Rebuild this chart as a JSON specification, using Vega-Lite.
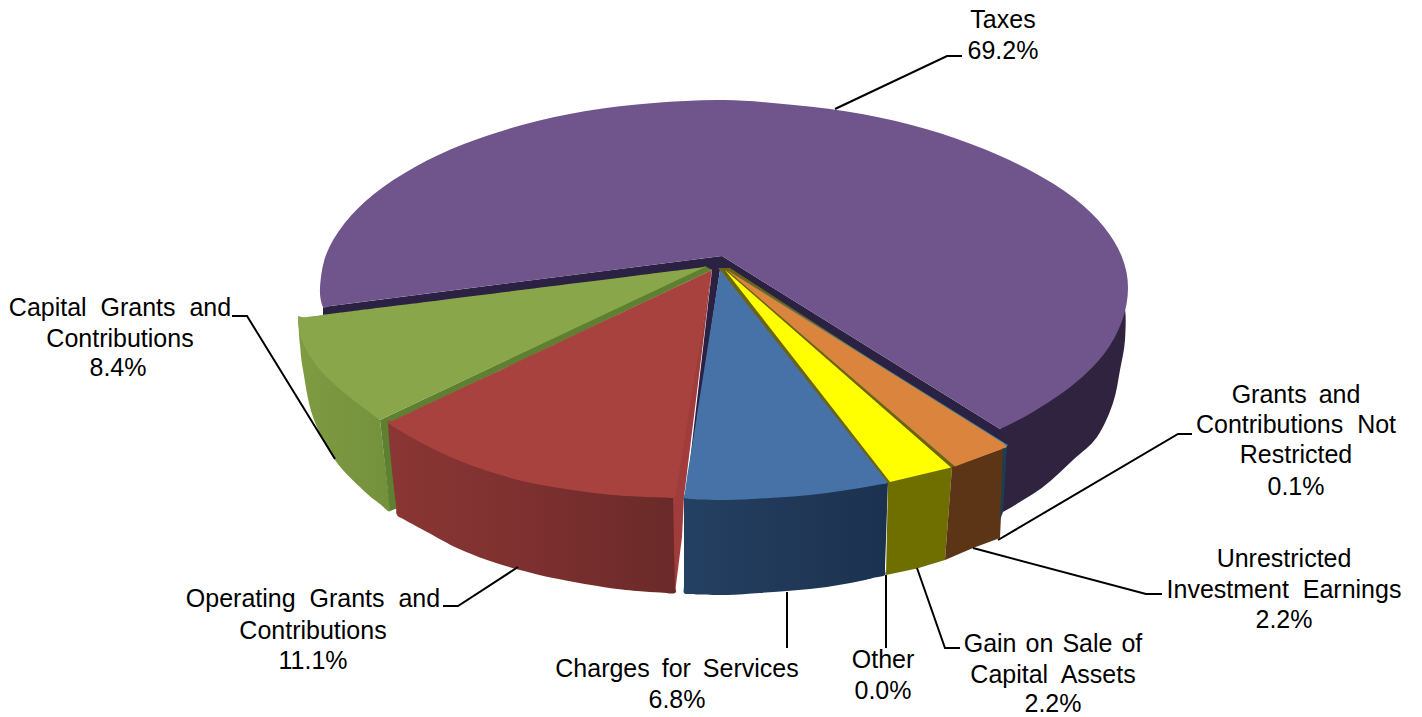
{
  "$schema": "https://vega.github.io/schema/vega-lite/v6.json",
  "width": 1422,
  "height": 717,
  "padding": 0,
  "autosize": {"type": "none"},
  "background": "white",
  "config": {"view": {"stroke": null}},
  "datasets": {
    "outlines": [
      {"face":"taxesSide","x":1000,"y":429},{"face":"taxesSide","x":1060,"y":380},{"face":"taxesSide","x":1110,"y":340},{"face":"taxesSide","x":1124,"y":308},{"face":"taxesSide","x":1125,"y":340},{"face":"taxesSide","x":1120,"y":370},{"face":"taxesSide","x":1113,"y":403},{"face":"taxesSide","x":1097,"y":437},{"face":"taxesSide","x":1073,"y":460},{"face":"taxesSide","x":1043,"y":487},{"face":"taxesSide","x":1003,"y":512},
      {"face":"taxesTop","x":722,"y":256},{"face":"taxesTop","x":422,"y":294.3},{"face":"taxesTop","x":348,"y":303.8},{"face":"taxesTop","x":329,"y":306.2},{"face":"taxesTop","x":323,"y":307},{"face":"taxesTop","x":320,"y":288},{"face":"taxesTop","x":326,"y":255},{"face":"taxesTop","x":344,"y":224},{"face":"taxesTop","x":374,"y":194},{"face":"taxesTop","x":415,"y":167},{"face":"taxesTop","x":464,"y":144},{"face":"taxesTop","x":522,"y":125},{"face":"taxesTop","x":586,"y":111},{"face":"taxesTop","x":654,"y":103},{"face":"taxesTop","x":724,"y":100},{"face":"taxesTop","x":794,"y":105},{"face":"taxesTop","x":862,"y":114},{"face":"taxesTop","x":926,"y":129},{"face":"taxesTop","x":984,"y":149},{"face":"taxesTop","x":1033,"y":172},{"face":"taxesTop","x":1074,"y":198},{"face":"taxesTop","x":1104,"y":227},{"face":"taxesTop","x":1122,"y":257},{"face":"taxesTop","x":1128,"y":288},{"face":"taxesTop","x":1122,"y":321},{"face":"taxesTop","x":1104,"y":354},{"face":"taxesTop","x":1074,"y":384},{"face":"taxesTop","x":1033,"y":412},{"face":"taxesTop","x":1000,"y":429},
      {"face":"taxesCut","x":722,"y":256},{"face":"taxesCut","x":323,"y":307},{"face":"taxesCut","x":323,"y":316},{"face":"taxesCut","x":705,"y":268},{"face":"taxesCut","x":712,"y":270},{"face":"taxesCut","x":686,"y":496},{"face":"taxesCut","x":720,"y":270},{"face":"taxesCut","x":1007,"y":446},{"face":"taxesCut","x":1000,"y":429},
      {"face":"capitalSide","x":298,"y":318},{"face":"capitalSide","x":300,"y":345},{"face":"capitalSide","x":303,"y":370},{"face":"capitalSide","x":313,"y":417},{"face":"capitalSide","x":335,"y":460},{"face":"capitalSide","x":363,"y":490},{"face":"capitalSide","x":380,"y":504},{"face":"capitalSide","x":390,"y":511},{"face":"capitalSide","x":388,"y":490},{"face":"capitalSide","x":384,"y":455},{"face":"capitalSide","x":380,"y":420},
      {"face":"capitalCut","x":705,"y":266},{"face":"capitalCut","x":712,"y":270},{"face":"capitalCut","x":389,"y":423},{"face":"capitalCut","x":398,"y":508},{"face":"capitalCut","x":390,"y":511},{"face":"capitalCut","x":380,"y":420},
      {"face":"capitalTop","x":705,"y":267},{"face":"capitalTop","x":397,"y":305.6},{"face":"capitalTop","x":323,"y":314.9},{"face":"capitalTop","x":304,"y":317.3},{"face":"capitalTop","x":298,"y":318},{"face":"capitalTop","x":303,"y":343},{"face":"capitalTop","x":320,"y":370},{"face":"capitalTop","x":347,"y":395},{"face":"capitalTop","x":380,"y":420},
      {"face":"operatingSide","x":675,"y":498},{"face":"operatingSide","x":675,"y":530},{"face":"operatingSide","x":675,"y":560},{"face":"operatingSide","x":675,"y":585},{"face":"operatingSide","x":675,"y":593},{"face":"operatingSide","x":660,"y":592.5},{"face":"operatingSide","x":637,"y":591},{"face":"operatingSide","x":603,"y":587},{"face":"operatingSide","x":553,"y":578},{"face":"operatingSide","x":520,"y":570},{"face":"operatingSide","x":487,"y":560},{"face":"operatingSide","x":457,"y":548},{"face":"operatingSide","x":427,"y":532},{"face":"operatingSide","x":405,"y":520},{"face":"operatingSide","x":397,"y":515},{"face":"operatingSide","x":396,"y":505},{"face":"operatingSide","x":393,"y":480},{"face":"operatingSide","x":390,"y":450},{"face":"operatingSide","x":388,"y":423},
      {"face":"operatingCut","x":712,"y":270},{"face":"operatingCut","x":684,"y":497},{"face":"operatingCut","x":682,"y":537},{"face":"operatingCut","x":675,"y":593},{"face":"operatingCut","x":673,"y":498},
      {"face":"operatingTop","x":712,"y":270},{"face":"operatingTop","x":478.5,"y":380.3},{"face":"operatingTop","x":410.6,"y":412.3},{"face":"operatingTop","x":393.4,"y":420.4},{"face":"operatingTop","x":388,"y":423},{"face":"operatingTop","x":420,"y":442},{"face":"operatingTop","x":455,"y":459},{"face":"operatingTop","x":497,"y":474},{"face":"operatingTop","x":547,"y":486},{"face":"operatingTop","x":613,"y":495},{"face":"operatingTop","x":675,"y":498},
      {"face":"gainUnder","x":718,"y":268},{"face":"gainUnder","x":886,"y":484},{"face":"gainUnder","x":953,"y":469},{"face":"gainUnder","x":1003,"y":445},{"face":"gainUnder","x":730,"y":268},
      {"face":"chargesSide","x":888,"y":483},{"face":"chargesSide","x":887,"y":510},{"face":"chargesSide","x":886,"y":540},{"face":"chargesSide","x":885,"y":568},{"face":"chargesSide","x":885,"y":575},{"face":"chargesSide","x":875,"y":577.5},{"face":"chargesSide","x":860,"y":581},{"face":"chargesSide","x":827,"y":587},{"face":"chargesSide","x":793,"y":590.5},{"face":"chargesSide","x":760,"y":593},{"face":"chargesSide","x":727,"y":595},{"face":"chargesSide","x":700,"y":594.5},{"face":"chargesSide","x":690,"y":594},{"face":"chargesSide","x":684,"y":593},{"face":"chargesSide","x":684,"y":585},{"face":"chargesSide","x":684,"y":560},{"face":"chargesSide","x":684,"y":530},{"face":"chargesSide","x":684,"y":498},
      {"face":"chargesTop","x":720,"y":270},{"face":"chargesTop","x":696.5,"y":419},{"face":"chargesTop","x":687,"y":478},{"face":"chargesTop","x":685,"y":493},{"face":"chargesTop","x":684,"y":498},{"face":"chargesTop","x":700,"y":499.5},{"face":"chargesTop","x":727,"y":500},{"face":"chargesTop","x":760,"y":498.5},{"face":"chargesTop","x":793,"y":496.5},{"face":"chargesTop","x":827,"y":493},{"face":"chargesTop","x":860,"y":488},{"face":"chargesTop","x":888,"y":483},
      {"face":"gainSide","x":888,"y":482},{"face":"gainSide","x":952,"y":467},{"face":"gainSide","x":945,"y":560},{"face":"gainSide","x":917,"y":568.5},{"face":"gainSide","x":886,"y":575},
      {"face":"gainTop","x":725,"y":270},{"face":"gainTop","x":890,"y":482},{"face":"gainTop","x":951,"y":467.5},
      {"face":"investSide","x":952,"y":467},{"face":"investSide","x":1004,"y":448},{"face":"investSide","x":1000,"y":538},{"face":"investSide","x":973,"y":548},{"face":"investSide","x":945,"y":560},
      {"face":"grantsSide","x":1003,"y":447},{"face":"grantsSide","x":1007,"y":446},{"face":"grantsSide","x":1003,"y":512},{"face":"grantsSide","x":1000,"y":520},
      {"face":"grantsTop","x":728,"y":270},{"face":"grantsTop","x":1008,"y":445},{"face":"grantsTop","x":1005,"y":448},
      {"face":"investTop","x":727,"y":270},{"face":"investTop","x":955,"y":466.5},{"face":"investTop","x":1007,"y":447},{"face":"investTop","x":1003,"y":443}
    ],
    "leaders": [
      {"slice":"Taxes","x":835,"y":109},{"slice":"Taxes","x":947,"y":56},{"slice":"Taxes","x":962,"y":56},
      {"slice":"Capital","x":335,"y":459},{"slice":"Capital","x":247,"y":316},{"slice":"Capital","x":232,"y":316},
      {"slice":"Operating","x":518,"y":567},{"slice":"Operating","x":458,"y":606},{"slice":"Operating","x":443,"y":606},
      {"slice":"Charges","x":787,"y":592},{"slice":"Charges","x":787,"y":648},
      {"slice":"Other","x":886,"y":575},{"slice":"Other","x":886,"y":648},
      {"slice":"Gain","x":917,"y":568},{"slice":"Gain","x":945,"y":648},{"slice":"Gain","x":960,"y":648},
      {"slice":"Invest","x":973,"y":548},{"slice":"Invest","x":1146,"y":594},{"slice":"Invest","x":1162,"y":594},
      {"slice":"Grants","x":998,"y":540},{"slice":"Grants","x":1178,"y":434},{"slice":"Grants","x":1192,"y":434}
    ],
    "captions": [
      {"line":"Taxes","x":1003,"y":28},
      {"line":"Capital\u00a0 Grants\u00a0 and","x":120,"y":316},
      {"line":"Contributions","x":120,"y":347},
      {"line":"Operating\u00a0 Grants\u00a0 and","x":313,"y":607},
      {"line":"Contributions","x":313,"y":639},
      {"line":"Charges\u2009 for\u2009 Services","x":677,"y":677},
      {"line":"Other","x":883,"y":668},
      {"line":"Gain\u200a on\u200a Sale\u200a of","x":1053,"y":652},
      {"line":"Capital\u00a0 Assets","x":1053,"y":683},
      {"line":"Unrestricted","x":1284,"y":567},
      {"line":"Investment\u00a0 Earnings","x":1284,"y":598},
      {"line":"Grants\u2009 and","x":1296,"y":403},
      {"line":"Contributions\u00a0 Not","x":1296,"y":433},
      {"line":"Restricted","x":1296,"y":463}
    ],
    "shares": [
      {"slice":"Taxes","share":0.692,"x":1003,"y":59},
      {"slice":"Capital Grants and Contributions","share":0.084,"x":118,"y":376},
      {"slice":"Operating Grants and Contributions","share":0.111,"x":313,"y":669},
      {"slice":"Charges for Services","share":0.068,"x":677,"y":708},
      {"slice":"Other","share":0.0,"x":883,"y":699},
      {"slice":"Gain on Sale of Capital Assets","share":0.022,"x":1053,"y":712},
      {"slice":"Unrestricted Investment Earnings","share":0.022,"x":1284,"y":628},
      {"slice":"Grants and Contributions Not Restricted","share":0.001,"x":1296,"y":495}
    ]
  },
  "data": {"name": "outlines"},
  "encoding": {
    "x": {"field": "x", "type": "quantitative", "axis": null, "scale": {"domain": [0, 1422], "nice": false, "zero": false}},
    "y": {"field": "y", "type": "quantitative", "axis": null, "scale": {"domain": [717, 0], "nice": false, "zero": false}}
  },
  "layer": [
    {"transform": [{"filter": "datum.face === 'taxesSide'"}], "mark": {"type": "line", "interpolate": "cardinal", "fill": "#2f2340", "stroke": null}, "encoding": {"order": {"value": null}}},
    {"transform": [{"filter": "datum.face === 'taxesCut'"}], "mark": {"type": "line", "fill": "#2b2142", "stroke": null}, "encoding": {"order": {"value": null}}},
    {"transform": [{"filter": "datum.face === 'taxesTop'"}], "mark": {"type": "line", "interpolate": "cardinal", "fill": "#70548c", "stroke": null}, "encoding": {"order": {"value": null}}},
    {"transform": [{"filter": "datum.face === 'capitalSide'"}], "mark": {"type": "line", "interpolate": "cardinal", "stroke": null, "fill": {"gradient": "linear", "x1": 0, "x2": 1, "y1": 0, "y2": 0, "stops": [{"offset": 0, "color": "#7f9c42"}, {"offset": 1, "color": "#73903c"}]}}, "encoding": {"order": {"value": null}}},
    {"transform": [{"filter": "datum.face === 'capitalCut'"}], "mark": {"type": "line", "fill": "#5d8130", "stroke": null}, "encoding": {"order": {"value": null}}},
    {"transform": [{"filter": "datum.face === 'capitalTop'"}], "mark": {"type": "line", "interpolate": "cardinal", "fill": "#8aa64b", "stroke": null}, "encoding": {"order": {"value": null}}},
    {"transform": [{"filter": "datum.face === 'operatingSide'"}], "mark": {"type": "line", "interpolate": "cardinal", "stroke": null, "fill": {"gradient": "linear", "x1": 0, "x2": 1, "y1": 0, "y2": 0, "stops": [{"offset": 0, "color": "#8a3634"}, {"offset": 0.5, "color": "#7c302f"}, {"offset": 1, "color": "#6a2a29"}]}}, "encoding": {"order": {"value": null}}},
    {"transform": [{"filter": "datum.face === 'operatingCut'"}], "mark": {"type": "line", "fill": "#a03c3c", "stroke": null}, "encoding": {"order": {"value": null}}},
    {"transform": [{"filter": "datum.face === 'operatingTop'"}], "mark": {"type": "line", "interpolate": "cardinal", "fill": "#a8423f", "stroke": null}, "encoding": {"order": {"value": null}}},
    {"transform": [{"filter": "datum.face === 'gainUnder'"}], "mark": {"type": "line", "fill": "#6b6414", "stroke": null}, "encoding": {"order": {"value": null}}},
    {"transform": [{"filter": "datum.face === 'chargesSide'"}], "mark": {"type": "line", "interpolate": "cardinal", "stroke": null, "fill": {"gradient": "linear", "x1": 0, "x2": 1, "y1": 0, "y2": 0, "stops": [{"offset": 0, "color": "#244062"}, {"offset": 0.6, "color": "#203756"}, {"offset": 1, "color": "#1b3150"}]}}, "encoding": {"order": {"value": null}}},
    {"transform": [{"filter": "datum.face === 'chargesTop'"}], "mark": {"type": "line", "interpolate": "cardinal", "fill": "#4672a8", "stroke": null}, "encoding": {"order": {"value": null}}},
    {"transform": [{"filter": "datum.face === 'gainSide'"}], "mark": {"type": "line", "fill": "#6f6f00", "stroke": null}, "encoding": {"order": {"value": null}}},
    {"transform": [{"filter": "datum.face === 'gainTop'"}], "mark": {"type": "line", "fill": "#ffff00", "stroke": null}, "encoding": {"order": {"value": null}}},
    {"transform": [{"filter": "datum.face === 'investSide'"}], "mark": {"type": "line", "fill": "#5c3517", "stroke": null}, "encoding": {"order": {"value": null}}},
    {"transform": [{"filter": "datum.face === 'grantsSide'"}], "mark": {"type": "line", "fill": "#1d3e50", "stroke": null}, "encoding": {"order": {"value": null}}},
    {"transform": [{"filter": "datum.face === 'grantsTop'"}], "mark": {"type": "line", "fill": "#3f8296", "stroke": null}, "encoding": {"order": {"value": null}}},
    {"transform": [{"filter": "datum.face === 'investTop'"}], "mark": {"type": "line", "fill": "#db843d", "stroke": null}, "encoding": {"order": {"value": null}}},
    {"data": {"name": "leaders"}, "mark": {"type": "line", "stroke": "black", "strokeWidth": 2}, "encoding": {"detail": {"field": "slice"}, "order": {"value": null}}},
    {"data": {"name": "captions"}, "mark": {"type": "text", "font": "Liberation Sans", "fontSize": 25, "align": "center", "baseline": "alphabetic", "color": "black"}, "encoding": {"text": {"field": "line"}}},
    {"data": {"name": "shares"}, "mark": {"type": "text", "font": "Liberation Sans", "fontSize": 25, "align": "center", "baseline": "alphabetic", "color": "black"}, "encoding": {"text": {"field": "share", "type": "quantitative", "format": ".1%"}}}
  ]
}
